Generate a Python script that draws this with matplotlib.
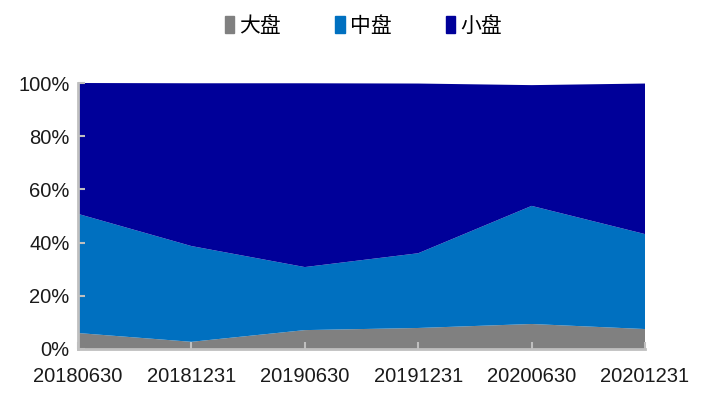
import numpy as np
from matplotlib import pyplot as plt
from matplotlib.patches import Rectangle

dates = ['20180630', '20181231', '20190630', '20191231', '20200630', '20201231']
series_names = ['大盘', '中盘', '小盘']
large = [6.0, 2.7, 7.1, 7.9, 9.4, 7.5]
mid = [44.8, 36.0, 23.7, 28.1, 44.4, 35.7]
small = [49.2, 61.2, 69.1, 63.8, 45.4, 56.6]
colors = ['#808080', '#0070C0', '#000099']

plt.rcParams['font.family'] = ['Liberation Sans', 'DejaVu Sans']

fig = plt.figure(figsize=(7.17, 3.96), dpi=100)
ax = fig.add_axes([0.1088, 0.1187, 0.7908, 0.6717])

x = np.arange(len(dates))
ax.stackplot(x, large, mid, small, colors=colors, linewidth=0)

ax.set_xlim(0, len(dates) - 1)
ax.set_ylim(0, 100)
ax.set_xticks(x)
ax.set_xticklabels(dates)
ax.set_yticks(np.arange(0, 101, 20))
ax.set_yticklabels(['%d%%' % v for v in range(0, 101, 20)])

for s in ['top', 'right']:
    ax.spines[s].set_visible(False)
for s in ['left', 'bottom']:
    ax.spines[s].set_color('#BFBFBF')
    ax.spines[s].set_linewidth(2)
ax.tick_params(direction='in', length=5, width=1.5, color='#BFBFBF',
               labelsize=14.5, pad=13, labelcolor='#1a1a1a')
ax.tick_params(axis='y', pad=6)

handles = [Rectangle((0, 0), 1, 1, color=c) for c in colors]
fig.legend(handles, series_names, loc='center', bbox_to_anchor=(0.507, 0.935),
           ncol=3, frameon=False, handlelength=0.45, handleheight=0.9,
           handletextpad=0.25, columnspacing=2.6,
           prop={'family': ['Noto Sans CJK SC', 'DejaVu Sans'], 'size': 15})

fig.savefig('out.png', dpi=100)
